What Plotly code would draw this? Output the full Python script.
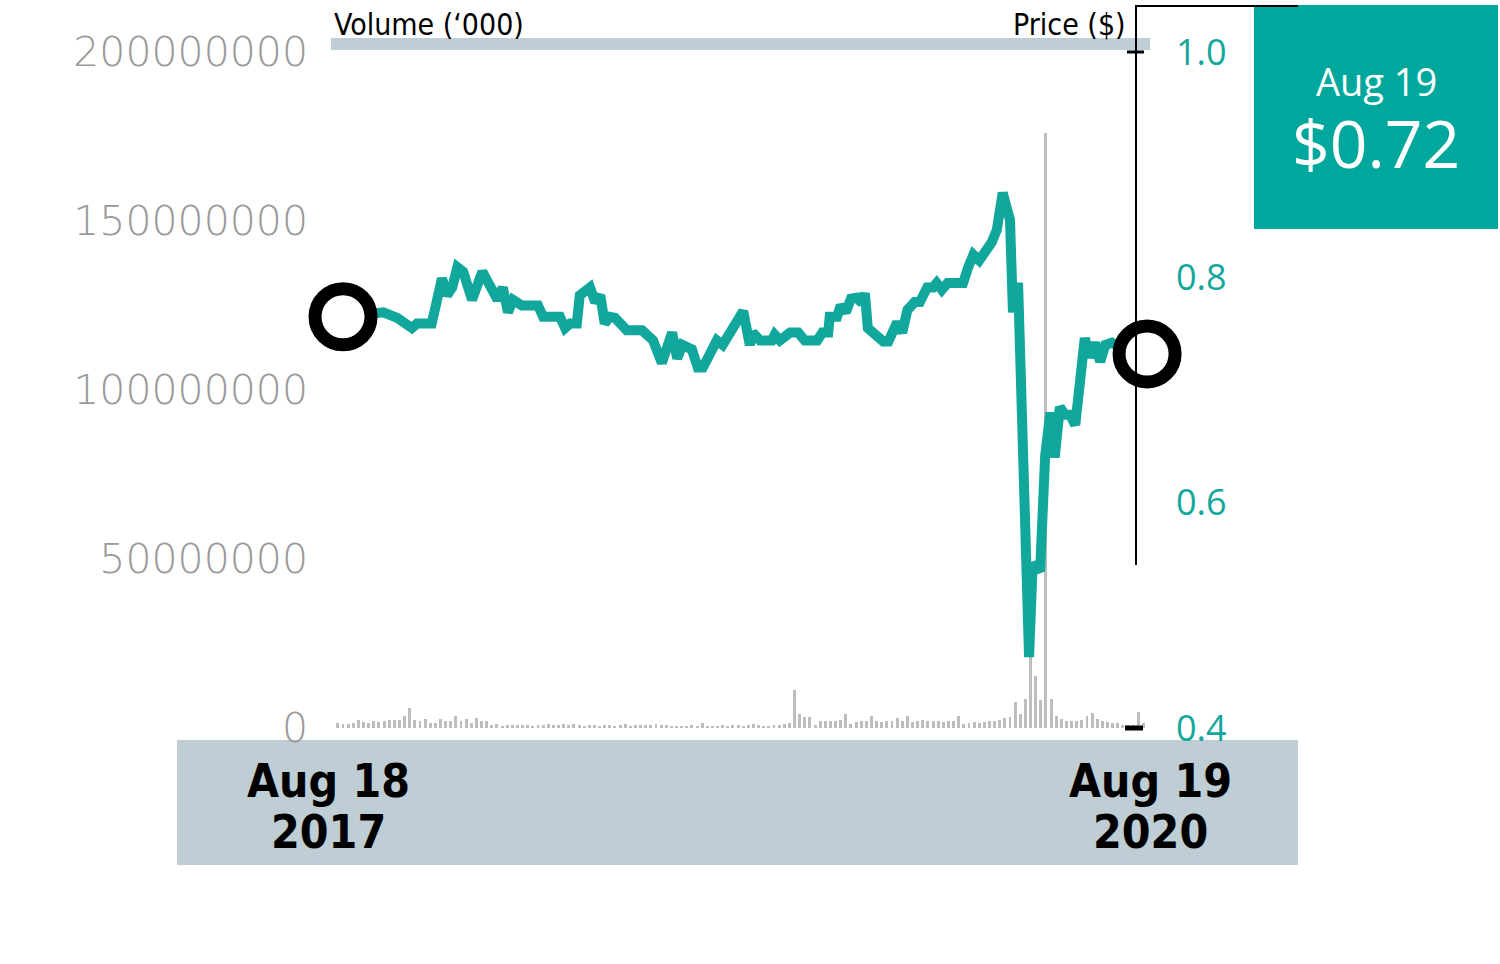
import plotly.graph_objects as go
import pandas as pd

# ---------------- data ----------------
start_date = "2017-08-18"
price_day = [0, 55, 74, 87, 94, 101, 121, 135, 142, 149,
             156, 164, 176, 190, 201, 211, 218, 225, 232, 244,
             266, 273, 296, 303, 310, 319, 323, 337, 344, 351,
             357, 364, 371, 387, 408, 423, 435, 449, 456, 463,
             476, 484, 491, 510, 518, 532, 546, 555, 559, 569,
             585, 589, 596, 610, 621, 630, 647, 654, 662, 664,
             674, 679, 686, 693, 701, 708, 712, 716, 729, 737,
             744, 756, 763, 770, 780, 787, 797, 805, 810, 817,
             825, 846, 853, 860, 868, 885, 892, 900, 910, 914,
             921, 936, 941, 951, 958, 965, 971, 978, 985, 992,
             999, 1006, 1012, 1019, 1026, 1033, 1040, 1049, 1067, 1097]
price = [0.765, 0.769, 0.764, 0.759, 0.755, 0.759, 0.759, 0.799, 0.784, 0.791,
         0.809, 0.805, 0.780, 0.805, 0.791, 0.780, 0.791, 0.769, 0.780, 0.775,
         0.775, 0.765, 0.765, 0.755, 0.759, 0.759, 0.784, 0.791, 0.778, 0.784,
         0.759, 0.765, 0.764, 0.753, 0.753, 0.744, 0.724, 0.751, 0.728, 0.740,
         0.736, 0.720, 0.720, 0.744, 0.740, 0.756, 0.770, 0.740, 0.751, 0.744,
         0.744, 0.749, 0.744, 0.751, 0.751, 0.744, 0.744, 0.751, 0.751, 0.765,
         0.765, 0.775, 0.769, 0.781, 0.782, 0.777, 0.786, 0.755, 0.747, 0.743,
         0.743, 0.760, 0.751, 0.771, 0.778, 0.778, 0.791, 0.791, 0.795, 0.789,
         0.795, 0.795, 0.809, 0.820, 0.815, 0.831, 0.842, 0.875, 0.851, 0.769,
         0.795, 0.463, 0.546, 0.539, 0.642, 0.680, 0.640, 0.685, 0.678, 0.678,
         0.669, 0.712, 0.746, 0.729, 0.742, 0.725, 0.740, 0.742, 0.736, 0.732]

# weekly volume, millions of shares
volume_start = "2017-08-11"
volume_m = [1.5, 1.3, 1.3, 1.5, 2.5, 1.7, 1.5, 2.0, 1.7, 2.2,
            2.5, 2.3, 2.3, 3.6, 5.9, 2.5, 2.2, 2.7, 1.5, 1.5,
            2.8, 2.2, 2.0, 3.5, 2.2, 2.8, 1.5, 3.0, 2.2, 2.0,
            0.8, 1.3, 0.5, 1.0,
            1.0, 0.8, 1.0, 1.0, 0.5, 0.8, 1.0, 1.2, 1.0, 0.8,
            1.2, 1.0, 1.2, 0.8, 0.5, 0.8, 1.0, 0.5, 0.8, 1.0,
            0.5, 1.0, 1.2, 0.5, 0.8, 1.0, 0.8, 1.0, 1.2, 1.0,
            0.8, 0.5, 0.5, 0.3, 0.5, 0.8, 0.5, 1.5, 0.3, 0.5,
            0.5, 0.8, 0.5, 0.8, 1.0, 0.5, 0.8, 1.2, 0.8, 0.3,
            0.5, 0.8, 1.0, 1.2, 1.5,
            11.1,
            4.1, 3.3, 3.3, 0.8, 2.2, 2.0, 2.0, 2.0, 2.5, 4.1,
            1.3, 1.7, 2.0, 2.0, 3.5, 2.0, 1.8, 2.0, 2.0, 3.0,
            2.0, 3.6, 1.7, 2.2, 2.5, 2.2, 2.0, 2.0, 1.8, 2.0,
            2.2, 3.5, 1.3, 1.5, 1.7, 1.5, 1.8, 2.2, 2.0, 2.5,
            3.0, 3.2, 7.6, 4.2, 8.6, 22.0, 15.4, 8.3, 176.0, 8.6,
            3.5, 2.7, 2.2, 2.0, 2.2, 2.5, 3.6, 4.4, 2.7, 2.2,
            1.7, 1.5, 1.5, 1.0, 1.0, 1.0, 4.7, 1.5]

vol_ticks = [0, 50000000, 100000000, 150000000, 200000000]
vol_ticktext = ["0", "50000000", "100000000", "150000000", "200000000"]
price_ticks = [0.4, 0.6, 0.8, 1.0]
price_ticktext = ["0.4", "0.6", "0.8", "1.0"]

start_label = ["Aug 18", "2017"]
end_label = ["Aug 19", "2020"]
latest_label = "Aug 19"
latest_price = "$0.72"

# ---------------- layout helpers ----------------
W, H = 1500, 964
ML, MR, MT, MB = 331, 350, 52, 236
PW = W - ML - MR
PH = H - MT - MB


def px(x):
    return (x - ML) / PW


def py(y):
    return (H - MB - y) / PH


TEAL = "#12A79C"
BAND = "#BFCDD4"
GREY_TXT = "#9A9A9A"
COND = "DejaVu Sans Condensed, Liberation Sans Narrow, sans-serif"

t0 = pd.Timestamp(start_date)
price_dates = [t0 + pd.Timedelta(days=d) for d in price_day]
vol_dates = pd.date_range(volume_start, periods=len(volume_m), freq="7D")
volume = [v * 1e6 for v in volume_m]

fig = go.Figure()
fig.add_trace(go.Bar(
    x=vol_dates, y=volume, marker=dict(color="#BDBDBD", line=dict(width=0)),
    width=4 * 86400000, yaxis="y", hoverinfo="skip", showlegend=False))
fig.add_trace(go.Scatter(
    x=price_dates, y=price, mode="lines", yaxis="y2",
    line=dict(color=TEAL, width=10), showlegend=False))
fig.add_trace(go.Scatter(
    x=[price_dates[0], price_dates[-1]], y=[price[0], price[-1]],
    mode="markers", yaxis="y2", cliponaxis=False,
    marker=dict(symbol="circle", size=56, color="white",
                line=dict(color="black", width=13)),
    showlegend=False))

x_lo = t0 - pd.Timedelta(hours=16.4 * 24)
x_hi = t0 + pd.Timedelta(hours=1101 * 24)

shapes = [
    dict(type="rect", xref="paper", yref="paper", x0=px(331), x1=px(1150),
         y0=py(50), y1=py(38), fillcolor=BAND, line=dict(width=0), layer="below"),
    dict(type="rect", xref="paper", yref="paper", x0=px(177), x1=px(1298),
         y0=py(865), y1=py(740), fillcolor=BAND, line=dict(width=0), layer="below"),
    dict(type="rect", xref="paper", yref="paper", x0=px(1254), x1=px(1498),
         y0=py(229), y1=py(5), fillcolor="#00A79C", line=dict(width=0), layer="below"),
    dict(type="line", xref="paper", yref="paper", x0=px(1136), x1=px(1136),
         y0=py(565), y1=py(5), line=dict(color="black", width=2), layer="above"),
    dict(type="line", xref="paper", yref="paper", x0=px(1135), x1=px(1298),
         y0=py(6), y1=py(6), line=dict(color="black", width=2), layer="above"),
    dict(type="line", xref="paper", yref="paper", x0=px(1127), x1=px(1144),
         y0=py(52), y1=py(52), line=dict(color="black", width=3), layer="above"),
    dict(type="line", xref="paper", yref="paper", x0=px(1125), x1=px(1143),
         y0=py(728), y1=py(728), line=dict(color="black", width=5), layer="above"),
]


def ann(text, x, y, size, family=COND, color="black", xanchor="center"):
    return dict(text=text, xref="paper", yref="paper", x=px(x), y=py(y),
                xanchor=xanchor, yanchor="middle", showarrow=False,
                font=dict(family=family, size=size, color=color))


annotations = [
    ann("Volume (\u2018000)", 332, 24, 30, xanchor="left"),
    ann("Price ($)", 1128, 24, 30, xanchor="right"),
    ann("<b>%s</b>" % start_label[0], 328, 781, 46),
    ann("<b>%s</b>" % start_label[1], 328, 832, 46),
    ann("<b>%s</b>" % end_label[0], 1150, 781, 46),
    ann("<b>%s</b>" % end_label[1], 1150, 832, 46),
    ann(latest_label, 1376, 81, 38, family="Open Sans", color="white"),
    ann(latest_price, 1376, 142, 66, family="Open Sans", color="white"),
]

fig.update_layout(
    width=W, height=H,
    margin=dict(l=ML, r=MR, t=MT, b=MB, pad=0),
    paper_bgcolor="white", plot_bgcolor="rgba(0,0,0,0)",
    bargap=0,
    xaxis=dict(type="date", range=[x_lo, x_hi], showticklabels=False,
               showgrid=False, zeroline=False, showline=False, ticks=""),
    yaxis=dict(range=[0, 200000000], tickvals=vol_ticks, ticktext=vol_ticktext,
               tickfont=dict(family="DejaVu Sans", size=41, color=GREY_TXT, weight=300),
               showgrid=False, zeroline=False, showline=False, ticks="",
               ticklabelstandoff=22),
    yaxis2=dict(range=[0.4, 1.0], overlaying="y", side="right",
                tickvals=price_ticks, ticktext=price_ticktext,
                tickfont=dict(family="Open Sans", size=36, color=TEAL),
                showgrid=False, zeroline=False, showline=False, ticks="",
                ticklabelstandoff=25),
    shapes=shapes,
    annotations=annotations,
    showlegend=False,
)

fig.write_html("out.html", config={"displayModeBar": False},
               post_script="document.body.style.margin='0px';")
